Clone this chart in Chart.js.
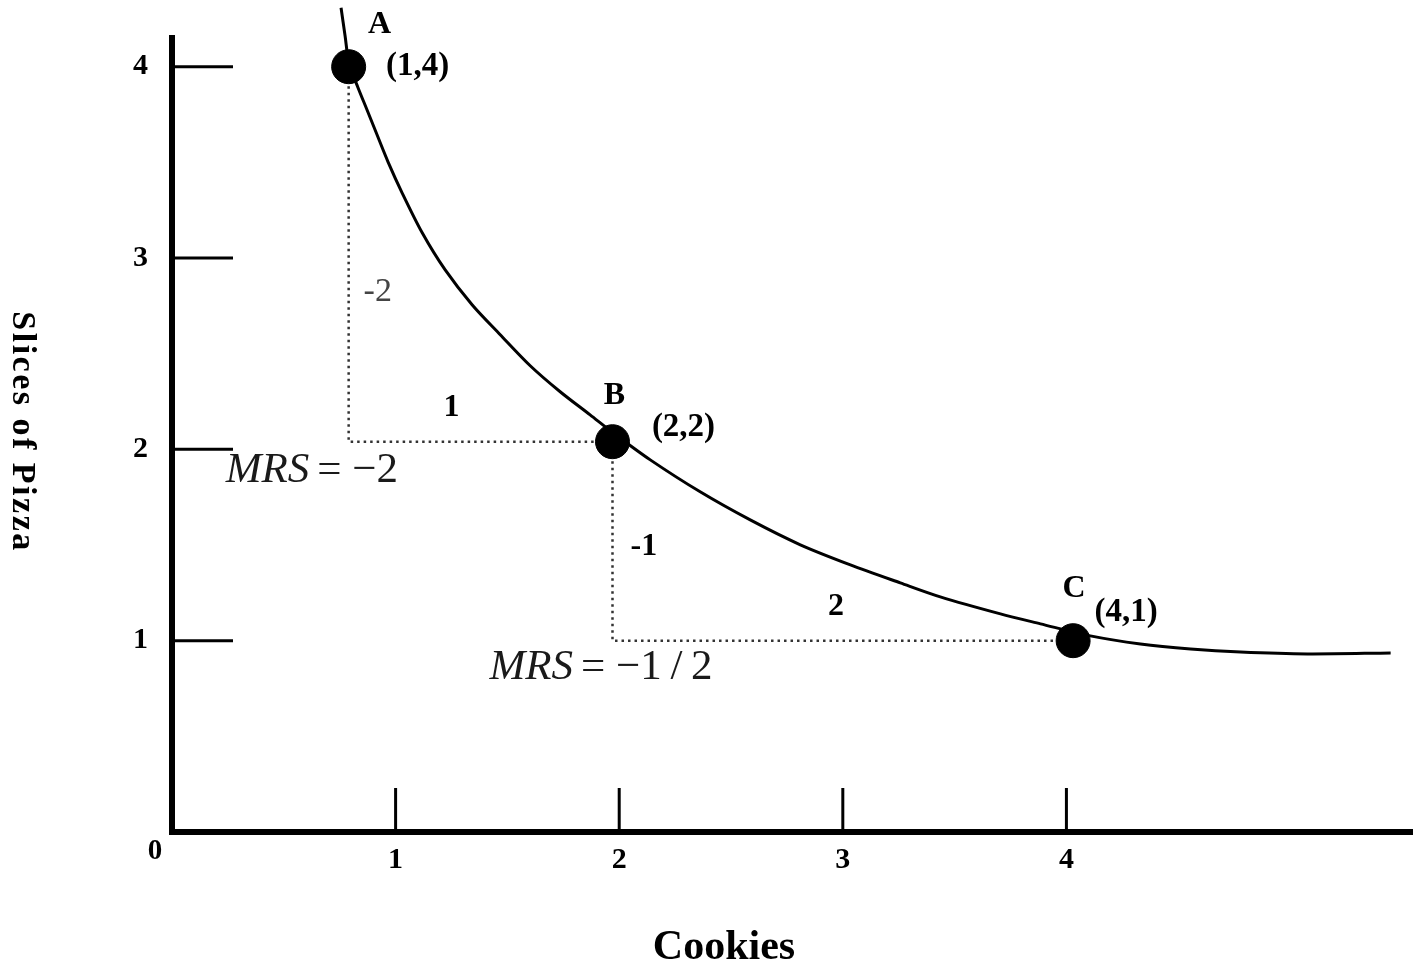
<!DOCTYPE html>
<html><head><meta charset="utf-8">
<script src="https://cdn.jsdelivr.net/npm/chart.js@4.4.1/dist/chart.umd.min.js"></script>
<style>html,body{margin:0;padding:0;background:#fff;overflow:hidden}#wrap{width:1413px;height:970px}</style>
</head><body><div id="wrap"><canvas id="c" width="1413" height="970"></canvas></div>
<script>
// ---- data ----
const xTitle = 'Cookies';
const yTitle = 'Slices of Pizza';
const xTickValues = [1, 2, 3, 4];
const yTickValues = [1, 2, 3, 4];
const originLabel = '0';

const pointNames = ['A', 'B', 'C'];
const pointCoordLabels = ['(1,4)', '(2,2)', '(4,1)'];
const pointX = [0.79, 1.97, 4.03];
const pointY = [4.00, 2.04, 1.00];

const curveX = [0.756, 0.774, 0.792, 0.832, 0.872, 0.917, 0.966, 1.029, 1.119, 1.221, 1.342, 1.468, 1.602, 1.736, 1.870, 1.973, 2.139, 2.362, 2.586, 2.810, 3.034, 3.257, 3.436, 3.705, 3.884, 4.107, 4.331, 4.555, 4.779, 5.078, 5.450];
const curveY = [4.308, 4.162, 4.016, 3.890, 3.775, 3.644, 3.503, 3.341, 3.132, 2.939, 2.756, 2.599, 2.437, 2.301, 2.180, 2.086, 1.945, 1.778, 1.631, 1.501, 1.396, 1.302, 1.229, 1.140, 1.088, 1.025, 0.983, 0.957, 0.941, 0.931, 0.936];

const slopeTexts = ['-2', '1', '-1', '2'];
const slopeX = [0.92, 1.25, 2.11, 2.97];
const slopeY = [2.82, 2.22, 1.49, 1.18];

const mrsValues = ['\u22122', '\u22121\u2009/\u20092'];
const mrsX = [0.24, 1.42];
const mrsY = [1.89, 0.86];

// ---- build ----
const pts = pointX.map((x, i) => ({x, y: pointY[i]}));
const curve = curveX.map((x, i) => ({x, y: curveY[i]}));
const triAB = [{x: pointX[0], y: pointY[0]}, {x: pointX[0], y: pointY[1]}, {x: pointX[1], y: pointY[1]}];
const triBC = [{x: pointX[1], y: pointY[1]}, {x: pointX[1], y: pointY[2]}, {x: pointX[2], y: pointY[2]}];

const SERIF = '"Liberation Serif", "DejaVu Serif", serif';

const deco = {
  id: 'deco',
  beforeDatasetsDraw(chart) {
    const {ctx, chartArea, scales: {x, y}} = chart;
    ctx.save();
    ctx.strokeStyle = '#000';
    ctx.lineWidth = 3;
    y.ticks.forEach(t => {
      const py = y.getPixelForValue(t.value);
      ctx.beginPath(); ctx.moveTo(chartArea.left + 3, py); ctx.lineTo(chartArea.left + 61, py); ctx.stroke();
    });
    x.ticks.forEach(t => {
      const px = x.getPixelForValue(t.value);
      ctx.beginPath(); ctx.moveTo(px, chartArea.bottom - 3); ctx.lineTo(px, chartArea.bottom - 44); ctx.stroke();
    });
    ctx.restore();
  },
  afterDraw(chart) {
    const {ctx, scales: {x, y}} = chart;
    ctx.save();
    ctx.fillStyle = '#000';
    ctx.textAlign = 'center';
    ctx.textBaseline = 'middle';
    // axis titles
    ctx.font = 'bold 42px ' + SERIF;
    ctx.fillText(xTitle, 724, 948);
    ctx.save();
    ctx.translate(22, 432);
    ctx.rotate(Math.PI / 2);
    ctx.font = 'bold 34px ' + SERIF;
    try { ctx.letterSpacing = '2.5px'; } catch (e) {}
    ctx.fillText(yTitle, 0, 0);
    ctx.restore();
    // origin
    ctx.font = 'bold 29px ' + SERIF;
    ctx.fillText(originLabel, x.getPixelForValue(0) - 17, y.getPixelForValue(0) + 20);
    // point labels
    const nameOff = [[31, -42], [2, -46], [1, -52]];
    const coordOff = [[69, 0], [71, -14], [53, -28]];
    pointX.forEach((vx, i) => {
      const px = x.getPixelForValue(vx), py = y.getPixelForValue(pointY[i]);
      ctx.font = 'bold 32px ' + SERIF;
      ctx.fillText(pointNames[i], px + nameOff[i][0], py + nameOff[i][1]);
      ctx.font = 'bold 33px ' + SERIF;
      ctx.fillText(pointCoordLabels[i], px + coordOff[i][0], py + coordOff[i][1]);
    });
    // slope labels
    slopeTexts.forEach((t, i) => {
      ctx.font = (i === 0 ? '34px ' : 'bold 32px ') + SERIF;
      ctx.fillStyle = i === 0 ? '#444' : '#000';
      ctx.fillText(t, x.getPixelForValue(slopeX[i]), y.getPixelForValue(slopeY[i]));
    });
    // MRS
    ctx.fillStyle = '#1a1a1a';
    ctx.textAlign = 'left';
    mrsValues.forEach((v, i) => {
      let px = x.getPixelForValue(mrsX[i]);
      const py = y.getPixelForValue(mrsY[i]);
      ctx.font = 'italic 43px ' + SERIF;
      ctx.fillText('MRS', px, py);
      px += ctx.measureText('MRS').width + 8;
      ctx.font = '43px ' + SERIF;
      ctx.fillText('= ' + v, px, py);
    });
    ctx.restore();
  }
};

new Chart(document.getElementById('c'), {
  type: 'scatter',
  data: {
    datasets: [
      {label: 'Bundles', data: pts, pointRadius: 17, pointHoverRadius: 17, backgroundColor: '#000', borderColor: '#000', showLine: false},
      {label: 'Indifference curve', data: curve, showLine: true, pointRadius: 0, borderColor: '#000', borderWidth: 3, tension: 0.3, clip: false},
      {label: 'A to B', data: triAB, showLine: true, pointRadius: 0, borderColor: '#333', borderWidth: 2.5, borderDash: [2.5, 4], tension: 0},
      {label: 'B to C', data: triBC, showLine: true, pointRadius: 0, borderColor: '#333', borderWidth: 2.5, borderDash: [2.5, 4], tension: 0}
    ]
  },
  options: {
    responsive: false,
    animation: false,
    devicePixelRatio: 1,
    layout: {autoPadding: false, padding: {top: 38, right: 0, left: 0, bottom: 0}},
    plugins: {legend: {display: false}, tooltip: {enabled: false}},
    scales: {
      x: {
        type: 'linear', min: 0, max: 5.55,
        afterBuildTicks: s => { s.ticks = xTickValues.map(v => ({value: v})); },
        afterFit: s => { s.height = 138; s.paddingLeft = 0; s.paddingRight = 0; },
        grid: {drawOnChartArea: false, drawTicks: false},
        border: {display: true, color: '#000', width: 6},
        ticks: {color: '#000', padding: 10, font: {family: SERIF, size: 30, weight: 'bold'}, callback: v => String(v)}
      },
      y: {
        type: 'linear', min: 0, max: 4.15,
        afterBuildTicks: s => { s.ticks = yTickValues.map(v => ({value: v})); },
        afterFit: s => { s.width = 172; s.paddingTop = 0; s.paddingBottom = 0; },
        grid: {drawOnChartArea: false, drawTicks: false},
        border: {display: true, color: '#000', width: 6},
        ticks: {color: '#000', padding: 24, font: {family: SERIF, size: 30, weight: 'bold'}, callback: v => String(v)}
      }
    }
  },
  plugins: [deco]
});
</script>
</body></html>
